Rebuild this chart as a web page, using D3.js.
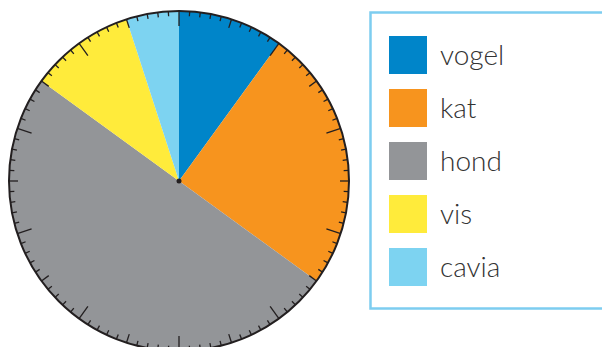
<!DOCTYPE html>
<html>
<head>
<meta charset="utf-8">
<script src="https://cdn.jsdelivr.net/npm/d3@7"></script>
<style>
  html, body { margin: 0; padding: 0; background: #fff; }
  svg { display: block; }
</style>
</head>
<body>
<svg id="chart" width="602" height="347"></svg>
<script>
// Huisdieren (percentages)
const categories = ["vogel", "kat", "hond", "vis", "cavia"];
const values = [10, 25, 50, 10, 5];
const colors = ["#0085c9", "#f7941e", "#939598", "#ffeb3b", "#7dd3f1"];
const tickCount = 100;

const svg = d3.select("#chart");
const cx = 179, cy = 181, radius = 170;

const g = svg.append("g").attr("transform", `translate(${cx},${cy})`);

const pie = d3.pie().sort(null).value(d => d.value);
const arc = d3.arc().innerRadius(0).outerRadius(radius);
const data = categories.map((c, i) => ({ name: c, value: values[i], color: colors[i] }));

g.selectAll("path.slice")
  .data(pie(data))
  .join("path")
  .attr("class", "slice")
  .attr("d", arc)
  .attr("fill", d => d.data.color);

// outer rim
g.append("circle")
  .attr("r", radius)
  .attr("fill", "none")
  .attr("stroke", "#231f20")
  .attr("stroke-width", 2);

// percentage ticks: long every 10, medium every 5
const tickAngle = d3.scaleLinear().domain([0, tickCount]).range([0, 2 * Math.PI]);
const ticks = d3.range(tickCount);
const tickLen = i => (i % 10 === 0 ? 15 : i % 5 === 0 ? 9 : 5);
g.selectAll("line.tick")
  .data(ticks)
  .join("line")
  .attr("class", "tick")
  .attr("x1", i => Math.sin(tickAngle(i)) * radius)
  .attr("y1", i => -Math.cos(tickAngle(i)) * radius)
  .attr("x2", i => Math.sin(tickAngle(i)) * (radius - tickLen(i)))
  .attr("y2", i => -Math.cos(tickAngle(i)) * (radius - tickLen(i)))
  .attr("stroke", "#231f20")
  .attr("stroke-width", 1.3);

g.append("circle").attr("r", 2.5).attr("fill", "#231f20");

// legend
const legend = svg.append("g");
legend.append("rect")
  .attr("x", 370.5).attr("y", 12.5)
  .attr("width", 260).attr("height", 296)
  .attr("fill", "none")
  .attr("stroke", "#7dcdf0")
  .attr("stroke-width", 2.5);

const ly = d3.scalePoint().domain(categories).range([36, 248]);
const items = legend.selectAll("g.item")
  .data(data)
  .join("g")
  .attr("class", "item")
  .attr("transform", d => `translate(389,${ly(d.name)})`);
items.append("rect")
  .attr("width", 38).attr("height", 38)
  .attr("fill", d => d.color);
items.append("text")
  .attr("x", 51).attr("y", 29)
  .attr("font-family", "Lato, 'Open Sans', sans-serif")
  .attr("font-weight", 300)
  .attr("font-size", 28)
  .attr("fill", "#333")
  .text(d => d.name);
</script>
</body>
</html>
